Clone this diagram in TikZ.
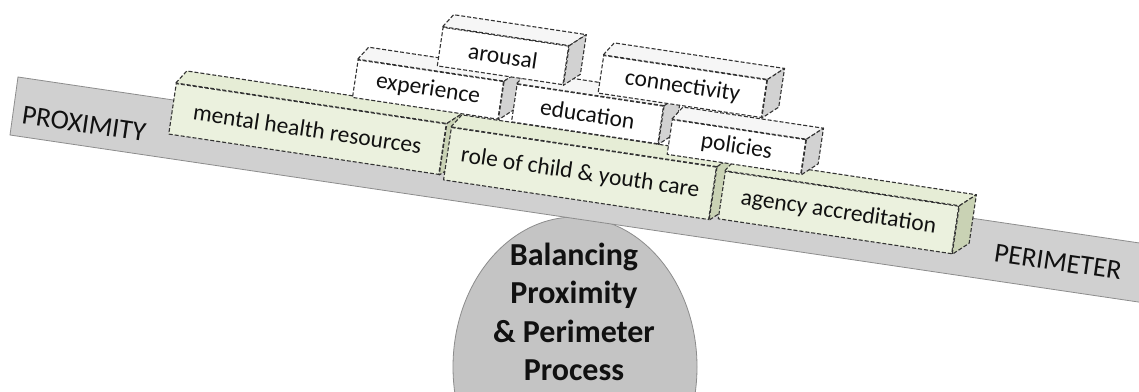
\documentclass[tikz,border=0pt]{standalone}
\usepackage{fontspec}
\setmainfont{Carlito}
\usetikzlibrary{calc,shapes.geometric}
\definecolor{beamfill}{HTML}{D0D0D0}
\definecolor{beamedge}{HTML}{8C8C8C}
\definecolor{pivotfill}{HTML}{C4C4C4}
\definecolor{greenfront}{HTML}{EBF1DE}
\definecolor{greentop}{HTML}{E6EDD6}
\definecolor{greenside}{HTML}{C9D2B4}
\definecolor{whitetop}{HTML}{F6F6F6}
\definecolor{whiteside}{HTML}{D2D2D2}
\definecolor{dashcol}{HTML}{333333}
\definecolor{textcol}{HTML}{111111}
\tikzset{
  boxline/.style={draw=dashcol, line width=1.1pt, dash pattern=on 4pt off 2pt, line join=round},
  gblock/.style={boxline, fill=greenfront, rotate=-8.5, inner sep=0pt, text=textcol, font=\fontsize{23.5}{27}\selectfont},
  wblock/.style={boxline, fill=white, rotate=-8.5, inner sep=0pt, text=textcol, font=\fontsize{23.5}{27}\selectfont},
  beam/.style={fill=beamfill, draw=beamedge, line width=0.8pt},
  pivot/.style={ellipse, fill=pivotfill, draw=beamedge, line width=0.8pt, inner sep=0pt},
  beamlabel/.style={rotate=-8.4, text=textcol, font=\fontsize{27.5}{30}\selectfont},
  pivotlabel/.style={align=center, text=textcol, font=\bfseries\fontsize{32}{38.5}\selectfont},
}
\newcommand\boxfaces[3]{%
  \draw[boxline, fill=#2] (#1.north west) -- ++(11,-12) -- ($(#1.north east)+(17,-11)$) -- (#1.north east) -- cycle;
  \draw[boxline, fill=#3] (#1.north east) -- ++(17,-11) -- ($(#1.south east)+(17,-11)$) -- (#1.south east) -- cycle;
}
\begin{document}
\begin{tikzpicture}[x=1pt,y=-1pt]
\clip (0,0) rectangle (1139,391);
\fill[white] (0,0) rectangle (1139,391);
% pivot and beam
\node[pivot, minimum width=244pt, minimum height=300pt] (pivot) at (575,367) {};
\draw[beam] (18,77) -- (1170,247.5) -- (1162,305.5) -- (10,135) -- cycle;
\node[beamlabel] (prox) at (84,124) {PROXIMITY};
\node[beamlabel] (peri) at (1058,262) {PERIMETER};
% bottom row (green)
\node[gblock, minimum width=273pt, minimum height=51pt] (mh) at (307.5,129) {mental health resources};
\boxfaces{mh}{greentop}{greenside}
\node[gblock, minimum width=268pt, minimum height=53pt] (rc) at (580,173.5) {role of child \& youth care};
\boxfaces{rc}{greentop}{greenside}
\node[gblock, minimum width=236pt, minimum height=48pt] (aa) at (838.5,212.5) {agency accreditation};
\boxfaces{aa}{greentop}{greenside}
% middle row (white)
\node[wblock, minimum width=147pt, minimum height=38pt] (ex) at (428,89.5) {experience};
\boxfaces{ex}{whitetop}{whiteside}
\node[wblock, minimum width=148pt, minimum height=38pt] (ed) at (587.5,114) {education};
\boxfaces{ed}{whitetop}{whiteside}
\node[wblock, minimum width=135pt, minimum height=35pt] (po) at (736.5,147) {policies};
\boxfaces{po}{whitetop}{whiteside}
% top row (white)
\node[wblock, minimum width=127pt, minimum height=39pt] (ar) at (503,56) {arousal};
\boxfaces{ar}{whitetop}{whiteside}
\node[wblock, minimum width=165pt, minimum height=38pt] (co) at (682.5,86.5) {connectivity};
\boxfaces{co}{whitetop}{whiteside}
% pivot text
\node[pivotlabel] (pivottext) at (574,312) {Balancing\\Proximity\\\& Perimeter\\Process};
\end{tikzpicture}
\end{document}
